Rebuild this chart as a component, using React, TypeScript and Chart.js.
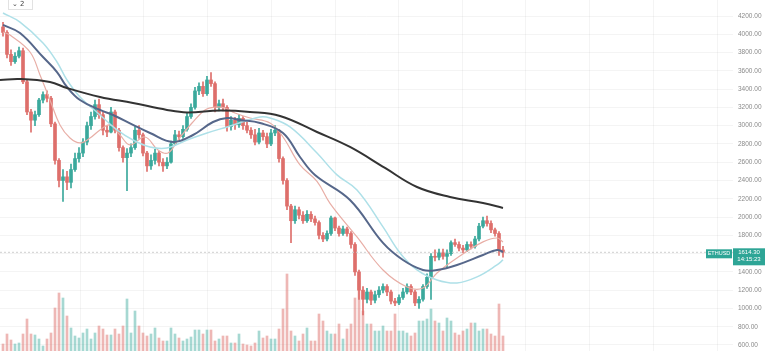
import React, { useEffect, useRef } from 'react';
import { Chart, registerables } from 'chart.js';

Chart.register(...registerables);

// ---- data ----
const symbol = 'ETHUSD';
const lastPrice = 1614.3;
const countdown = '14:15:23';
const badgeText = '⌄ 2';

const openP = [
  4080, 4020, 3780, 3700, 3760, 3820, 3480, 3150, 3060, 3120,
  3280, 3340, 3300, 3020, 2620, 2400, 2440, 2380, 2520, 2640,
  2700, 2820, 3000, 3100, 3230, 3120, 2950, 2930, 3150, 2950,
  2760, 2650, 2700, 2760, 2950, 2900, 2700, 2560, 2620, 2700,
  2600, 2560, 2600, 2800, 2900, 2880, 2960, 3100, 3200, 3380,
  3430, 3350, 3500, 3460, 3200, 3240, 3200, 2990, 3060, 3010,
  3080, 3000, 2950, 2900, 2820, 2920, 2880, 2800, 2920, 2950,
  2640, 2400, 2120, 1960, 2080, 2020, 1960, 2030, 1980, 1940,
  1800, 1760, 1820, 1990, 1880, 1820, 1870, 1820, 1700, 1400,
  1200, 1100, 1180, 1090, 1150, 1200, 1240, 1180, 1080, 1060,
  1120, 1180, 1240, 1180, 1060, 1100, 1240, 1340, 1570, 1560,
  1610, 1570, 1600, 1720, 1700, 1660, 1640, 1700, 1680, 1760,
  1900, 1960, 1930, 1860, 1820, 1640,
];
const highP = [
  4130, 4040, 3830, 3800, 3860, 3850, 3500, 3180, 3160, 3300,
  3370, 3380, 3320, 3040, 2640, 2520, 2500, 2580, 2700, 2760,
  2860, 3040, 3150, 3280, 3290, 3150, 3000, 3200, 3170, 2970,
  2780, 2750, 2800, 2990, 3000, 2920, 2720, 2680, 2740, 2720,
  2640, 2650, 2830, 2950, 2940, 3000, 3140, 3240, 3420, 3470,
  3480, 3540, 3580, 3480, 3280, 3290, 3220, 3100, 3090, 3120,
  3100, 3040, 2980, 2960, 2970, 2950, 2920, 2960, 3000, 2960,
  2660, 2420, 2140, 2120, 2110, 2060, 2070, 2060, 2010, 1960,
  1830, 1850, 2010, 2000, 1900, 1900, 1890, 1840, 1720, 1420,
  1240, 1220, 1200, 1190, 1240, 1270, 1260, 1200, 1110, 1150,
  1220, 1270, 1260, 1200, 1130, 1260, 1380, 1600, 1640, 1650,
  1650, 1640, 1740, 1760, 1730, 1690, 1730, 1730, 1790, 1930,
  2000, 2010, 1960, 1880, 1840, 1680,
];
const lowP = [
  3980, 3740, 3660, 3680, 3740, 3460, 3120, 2930, 3000, 3100,
  3250, 3260, 2990, 2580, 2330, 2170, 2300, 2320, 2500, 2600,
  2660, 2790, 2960, 3070, 3080, 2900, 2880, 2920, 2920, 2720,
  2600, 2290, 2660, 2740, 2860, 2670, 2500, 2520, 2580, 2560,
  2500, 2530, 2590, 2780, 2840, 2860, 2940, 3080, 3180, 3340,
  3320, 3330, 3430, 3150, 3160, 3160, 2940, 2950, 2960, 2980,
  2960, 2920, 2860, 2790, 2800, 2840, 2760, 2780, 2890, 2600,
  2360, 2080, 1720, 1930, 1980, 1930, 1940, 1950, 1910, 1760,
  1730, 1740, 1800, 1850, 1790, 1800, 1790, 1660, 1360, 1100,
  930, 1060, 1040, 1060, 1120, 1170, 1140, 1050, 1030, 1040,
  1100, 1160, 1150, 1030, 1000, 1080, 1220, 1100, 1520, 1530,
  1540, 1450, 1580, 1680, 1630, 1610, 1620, 1650, 1660, 1740,
  1880, 1900, 1830, 1790, 1580, 1560,
];
const closeP = [
  4020, 3780, 3700, 3760, 3820, 3480, 3150, 3060, 3120, 3280,
  3340, 3300, 3020, 2620, 2400, 2440, 2380, 2520, 2640, 2700,
  2820, 3000, 3100, 3230, 3120, 2950, 2930, 3150, 2950, 2760,
  2650, 2700, 2760, 2950, 2900, 2700, 2560, 2620, 2700, 2600,
  2560, 2600, 2800, 2900, 2880, 2960, 3100, 3200, 3380, 3430,
  3350, 3500, 3460, 3200, 3240, 3200, 2990, 3060, 3010, 3080,
  3000, 2950, 2900, 2820, 2920, 2880, 2800, 2920, 2950, 2640,
  2400, 2120, 1960, 2080, 2020, 1960, 2030, 1980, 1940, 1800,
  1760, 1820, 1990, 1880, 1820, 1870, 1820, 1700, 1400, 1200,
  1100, 1180, 1090, 1150, 1200, 1240, 1180, 1080, 1060, 1120,
  1180, 1240, 1180, 1060, 1100, 1240, 1340, 1570, 1560, 1610,
  1570, 1600, 1720, 1700, 1660, 1640, 1700, 1680, 1760, 1900,
  1960, 1930, 1860, 1820, 1640, 1614.3,
];
const volume = [
  7, 17, 11, 7, 8, 17, 32, 17, 16, 12,
  5, 12, 18, 43, 58, 53, 35, 23, 15, 13,
  18, 22, 12, 18, 25, 22, 16, 16, 22, 17,
  25, 52, 18, 40, 25, 18, 15, 17, 23, 13,
  10, 10, 23, 17, 13, 10, 12, 14, 21, 21,
  17, 21, 21, 10, 12, 15, 15, 8, 8, 17,
  7, 6, 5, 8, 20, 13, 15, 12, 12, 22,
  42, 77, 20, 15, 10, 17, 23, 10, 10, 37,
  30, 20, 17, 17, 27, 12, 22, 27, 53, 70,
  40, 27, 27, 20, 20, 25, 20, 20, 37, 20,
  20, 18, 15, 18, 30, 30, 32, 42, 30, 28,
  20, 33, 30, 18, 16, 20, 22, 28, 28, 20,
  22, 22, 17, 15, 47, 15,
];

// moving averages: positions (candle index) and values
const ma200X = [-0.75, 4.25, 11.75, 16, 24.25, 32.5, 41, 46, 54.25, 61.75, 69.25, 78.5, 86.75, 95.5, 103.5, 111.75, 120, 125];
const ma200Y = [3500, 3510, 3478, 3412, 3314, 3248, 3172, 3145, 3165, 3150, 3106, 2931, 2767, 2537, 2329, 2220, 2154, 2100];

const ma100X = [0, 4.25, 10, 13.5, 16, 19.25, 24.25, 27.5, 32.5, 36.75, 42.5, 47.5, 52.5, 56, 59.25, 64.25, 70, 74.25, 78, 86.75, 95, 100, 105, 108.5, 113.5, 120, 123.5, 125];
const ma100Y = [4102, 4014, 3751, 3587, 3423, 3281, 3172, 3117, 3008, 2920, 2822, 2898, 3040, 3084, 3062, 3029, 2920, 2657, 2460, 2187, 1717, 1530, 1421, 1421, 1476, 1585, 1640, 1618];

const ma50X = [0, 4.25, 10, 13.5, 16, 19.25, 24.25, 28.5, 32.5, 36.75, 41, 46, 51, 56, 64.25, 66.75, 71.75, 78.5, 83.5, 88.5, 95, 99.25, 103.5, 108.5, 113.5, 118.5, 123.5, 125];
const ma50Y = [4233, 4134, 3905, 3697, 3500, 3314, 3117, 2953, 2843, 2767, 2756, 2843, 2920, 2986, 3095, 3084, 2986, 2701, 2461, 2296, 1892, 1607, 1421, 1312, 1279, 1345, 1476, 1531];

const ma20X = [0, 1.75, 6.75, 9.25, 11.75, 14.25, 16.75, 19.25, 21.75, 24.25, 26.75, 29.25, 31.75, 35.5, 38.75, 41.25, 43.75, 47.25, 50.5, 53, 55.5, 58, 61.75, 66.75, 70, 74.25, 78.5, 81.75, 88.5, 95, 101, 105, 108.5, 113.5, 120, 123.5, 125];
const ma20Y = [4025, 3992, 3806, 3555, 3281, 3008, 2865, 2811, 2865, 2953, 3008, 2898, 2789, 2876, 2734, 2701, 2843, 3029, 3172, 3204, 3193, 3139, 3084, 3029, 2876, 2570, 2390, 2150, 1782, 1421, 1235, 1224, 1388, 1553, 1728, 1771, 1728];

const priceTicks = [600, 800, 1000, 1200, 1400, 1600, 1800, 2000, 2200, 2400, 2600, 2800, 3000, 3200, 3400, 3600, 3800, 4000, 4200];
const gridX = [19.25, 35.2, 51.1, 67, 83, 98.9, 114.8, 130.7, 146.6, 162.6, 178.5];

const UP = '#3aa99c';
const DOWN = '#de6f6b';
const UP_VOL = 'rgba(58,169,156,0.45)';
const DOWN_VOL = 'rgba(222,111,107,0.5)';
const TEAL_BOX = '#2ea596';

const pts = (xs: number[], ys: number[]) => xs.map((x, i) => ({ x, y: ys[i] }));

const overlayPlugin = {
  id: 'overlay',
  afterDraw(chart: any) {
    const { ctx, chartArea, scales } = chart;
    const y = scales.y.getPixelForValue(lastPrice);
    ctx.save();
    ctx.fillStyle = TEAL_BOX;
    ctx.fillRect(chartArea.right - 27, y - 3, 26, 9);
    ctx.fillRect(chartArea.right, y - 4, 32, 17);
    ctx.fillStyle = '#ffffff';
    ctx.textBaseline = 'middle';
    ctx.textAlign = 'center';
    ctx.font = '5.5px "Liberation Sans"';
    ctx.fillText(symbol, chartArea.right - 14, y + 1.5);
    ctx.font = '6px "Liberation Sans"';
    ctx.fillText(lastPrice.toFixed(2), chartArea.right + 16, y + 0.5);
    ctx.fillText(countdown, chartArea.right + 16, y + 7.5);
    ctx.fillStyle = '#ffffff';
    ctx.strokeStyle = '#e2e2e2';
    ctx.lineWidth = 1;
    ctx.fillRect(8, -2, 25, 12);
    ctx.strokeRect(8.5, -1.5, 24, 11);
    ctx.fillStyle = '#444';
    ctx.textAlign = 'left';
    ctx.font = '7px "DejaVu Sans"';
    ctx.fillText(badgeText, 12, 4.5);
    ctx.restore();
  },
};

export default function App() {
  const ref = useRef<HTMLCanvasElement>(null);
  useEffect(() => {
    const idx = closeP.map((_, i) => i);
    const isUp = (i: number) => closeP[i] >= openP[i];
    const chart = new Chart(ref.current as HTMLCanvasElement, {
      type: 'bar',
      data: {
        datasets: [
          {
            type: 'line', label: 'MA200', data: pts(ma200X, ma200Y),
            borderColor: '#333333', borderWidth: 2, pointRadius: 0, tension: 0.4, yAxisID: 'y', order: 1,
          } as any,
          {
            type: 'line', label: 'MA100', data: pts(ma100X, ma100Y),
            borderColor: '#56678a', borderWidth: 2, pointRadius: 0, tension: 0.4, yAxisID: 'y', order: 2,
          } as any,
          {
            type: 'line', label: 'MA50', data: pts(ma50X, ma50Y),
            borderColor: '#aee0e8', borderWidth: 1.5, pointRadius: 0, tension: 0.4, yAxisID: 'y', order: 3,
          } as any,
          {
            type: 'line', label: 'MA20', data: pts(ma20X, ma20Y),
            borderColor: '#e8aea6', borderWidth: 1.2, pointRadius: 0, tension: 0.4, yAxisID: 'y', order: 4,
          } as any,
          {
            type: 'line', label: 'last', data: [{ x: -0.75, y: lastPrice }, { x: 182.5, y: lastPrice }],
            borderColor: '#cfcfcf', borderWidth: 1, borderDash: [2, 2], pointRadius: 0, yAxisID: 'y', order: 6,
          } as any,
          {
            type: 'bar', label: 'wick', data: idx.map((i) => ({ x: i, y: [lowP[i], highP[i]] })),
            backgroundColor: idx.map((i) => (isUp(i) ? UP : DOWN)), barThickness: 1, grouped: false,
            yAxisID: 'y', order: 8,
          } as any,
          {
            type: 'bar', label: 'body', data: idx.map((i) => ({ x: i, y: [openP[i], closeP[i]] })),
            backgroundColor: idx.map((i) => (isUp(i) ? UP : DOWN)), barThickness: 3, grouped: false,
            minBarLength: 1, yAxisID: 'y', order: 7,
          } as any,
          {
            type: 'bar', label: 'volume', data: idx.map((i) => ({ x: i, y: volume[i] })),
            backgroundColor: idx.map((i) => (isUp(i) ? UP_VOL : DOWN_VOL)), barThickness: 2, grouped: false,
            yAxisID: 'yv', order: 10,
          } as any,
        ],
      },
      options: {
        responsive: false,
        animation: false,
        devicePixelRatio: 1,
        layout: { padding: { top: 0, bottom: 4, left: 0, right: 0 } },
        plugins: { legend: { display: false }, tooltip: { enabled: false } },
        scales: {
          x: {
            type: 'linear', min: -0.75, max: 182.5, offset: false,
            grid: { color: 'rgba(0,0,0,0.045)', drawTicks: false, offset: false },
            border: { display: false },
            ticks: { display: false },
            afterBuildTicks: (s: any) => { s.ticks = gridX.map((v) => ({ value: v })); },
          },
          y: {
            type: 'linear', position: 'right', min: 534.3, max: 4375.1,
            grid: { color: 'rgba(0,0,0,0.045)', drawTicks: false },
            border: { display: false },
            ticks: {
              padding: 5, color: '#8a8a8a',
              font: { family: 'Liberation Sans', size: 6.5 },
              callback: (v: any) => Number(v).toFixed(2),
            },
            afterBuildTicks: (s: any) => { s.ticks = priceTicks.map((v) => ({ value: v })); },
            afterFit: (s: any) => { s.width = 35; s.paddingTop = 0; s.paddingBottom = 0; },
          },
          yv: { type: 'linear', display: false, min: 0, max: 351 },
        },
      } as any,
      plugins: [overlayPlugin],
    });
    return () => chart.destroy();
  }, []);
  return (
    <div style={{ position: 'fixed', left: 0, top: 0, width: 768, height: 355, background: '#fff' }}>
      <canvas ref={ref} width={768} height={355} style={{ display: 'block' }} />
    </div>
  );
}
